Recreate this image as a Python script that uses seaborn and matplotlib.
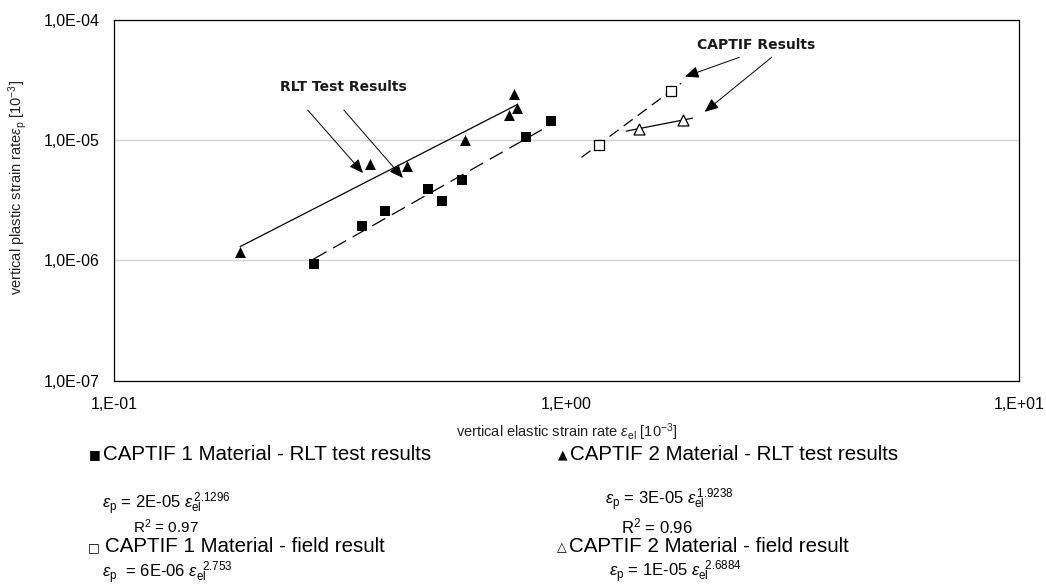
import numpy as np
import pandas as pd
import matplotlib
matplotlib.use("Agg")
import matplotlib.pyplot as plt
import seaborn as sns

# ---------------- data ----------------
rlt1_x = [0.276, 0.353, 0.397, 0.493, 0.530, 0.587, 0.815, 0.925]
rlt1_y = [9.4e-7, 1.94e-6, 2.55e-6, 3.93e-6, 3.08e-6, 4.67e-6, 1.06e-5, 1.43e-5]
rlt2_x = [0.190, 0.367, 0.444, 0.597, 0.745, 0.778, 0.767]
rlt2_y = [1.18e-6, 6.35e-6, 6.03e-6, 9.93e-6, 1.61e-5, 1.85e-5, 2.39e-5]
field1_x = [1.178, 1.70]
field1_y = [9.14e-6, 2.55e-5]
field2_x = [1.445, 1.805]
field2_y = [1.24e-5, 1.46e-5]

series_names = ["CAPTIF 1 Material - RLT test results",
                "CAPTIF 2 Material - RLT test results",
                "CAPTIF 1 Material - field result",
                "CAPTIF 2 Material - field result"]
equations = [r"$\varepsilon_{\rm p}$ = 2E-05 $\varepsilon_{\rm el}^{\,2.1296}$",
             r"$\varepsilon_{\rm p}$ = 3E-05 $\varepsilon_{\rm el}^{\,1.9238}$",
             r"$\varepsilon_{\rm p}$  = 6E-06 $\varepsilon_{\rm el}^{\;\;2.753}$",
             r"$\varepsilon_{\rm p}$ = 1E-05 $\varepsilon_{\rm el}^{\;\;2.6884}$"]
r2_labels = ["R$^2$ = 0.97", "R$^2$ = 0.96"]
yticks = [1e-7, 1e-6, 1e-5, 1e-4]
ytick_labels = ["1,0E-07", "1,0E-06", "1,0E-05", "1,0E-04"]
xticks = [0.1, 1, 10]
xtick_labels = ["1,E-01", "1,E+00", "1,E+01"]

# ---------------- style ----------------
sns.set_theme(style="white")
plt.rcParams["font.family"] = ["Liberation Sans", "DejaVu Sans"]
plt.rcParams["mathtext.fontset"] = "custom"
plt.rcParams["mathtext.rm"] = "Liberation Sans"
plt.rcParams["mathtext.it"] = "Liberation Sans:italic"
plt.rcParams["mathtext.bf"] = "Liberation Sans:bold"

W, H = 1046, 585
fig = plt.figure(figsize=(W / 100, H / 100), dpi=100)
ax = fig.add_axes([114 / W, 1 - 380.7 / H, 905 / W, 361.2 / H])
ax.set_xscale("log")
ax.set_yscale("log")

# ---------------- points ----------------
pts = [
    (rlt1_x, rlt1_y, "s", "black", 52),
    (rlt2_x, rlt2_y, "^", "black", 62),
    (field1_x, field1_y, "s", "white", 52),
    (field2_x, field2_y, "^", "white", 62),
]
for xs, ys, mk, fc, s in pts:
    sns.scatterplot(x=xs, y=ys, marker=mk, s=s, color=fc, edgecolor="black",
                    linewidth=0.9 if fc == "white" else 0, ax=ax, zorder=4)

# ---------------- power trendlines (fit in log space) ----------------
trend_styles = [(0, (12, 6)), "-", (0, (9, 5)), "-"]
ext_low = [0.0, 0.0, 0.038, 0.028]
ext_high = [0.01, 0.0, 0.023, 0.022]
for (xs, ys, *_), ls, el, eh in zip(pts, trend_styles, ext_low, ext_high):
    lx, ly = np.log10(xs), np.log10(ys)
    b, a = np.polyfit(lx, ly, 1)
    tx = np.linspace(lx.min() - el, lx.max() + eh, 50)
    df = pd.DataFrame({"x": 10 ** tx, "y": 10 ** (a + b * tx)})
    sns.lineplot(data=df, x="x", y="y", ax=ax, color="black", lw=0.9,
                 linestyle=ls, zorder=3)

# ---------------- axes ----------------
ax.set_xlim(0.1, 10)
ax.set_ylim(1e-7, 1e-4)
ax.set_xticks(xticks)
ax.set_xticklabels(xtick_labels)
ax.set_yticks(yticks)
ax.set_yticklabels(ytick_labels)
ax.minorticks_off()
ax.tick_params(axis="y", direction="inout", length=8, width=0.8, pad=6,
               labelsize=11.5, colors="black")
ax.tick_params(axis="x", direction="out", length=5, width=0.8, pad=7,
               labelsize=11.5, colors="black")
ax.yaxis.grid(True, color="#d2d2d2", lw=1)
ax.xaxis.grid(False)
for sp in ax.spines.values():
    sp.set_visible(True)
    sp.set_color("black")
    sp.set_linewidth(0.9)

ax.set_xlabel(r"vertical elastic strain rate $\varepsilon_{\rm el}$ [10$^{-3}$]",
              fontsize=10.5, color="#222222")
ax.xaxis.set_label_coords(0.5, (380.7 - 432) / 361.2)
ax.xaxis.label.set_va("center")
ax.set_ylabel(r"vertical plastic strain rate$\varepsilon_{\rm p}$ [10$^{-3}$]",
              fontsize=10.5, color="#222222")
ax.yaxis.set_label_coords((18 - 114) / 905, (380.7 - 187) / 361.2)
ax.yaxis.label.set_va("center")

# ---------------- annotations ----------------
arrow_kw = dict(arrowstyle="-|>,head_length=0.7,head_width=0.3", color="black",
                lw=0.7, shrinkA=0, shrinkB=0)
ax.text(0.322, 2.75e-5, "RLT Test Results", ha="center", va="center",
        fontsize=10, fontweight="bold", family="DejaVu Sans", color="#1a1a1a")
ax.annotate("", xy=(0.355, 5.31e-6), xytext=(0.268, 1.77e-5), arrowprops=arrow_kw)
ax.annotate("", xy=(0.435, 4.83e-6), xytext=(0.322, 1.77e-5), arrowprops=arrow_kw)
ax.text(2.62, 6.13e-5, "CAPTIF Results", ha="center", va="center",
        fontsize=10, fontweight="bold", family="DejaVu Sans", color="#1a1a1a")
ax.annotate("", xy=(1.827, 3.35e-5), xytext=(2.41, 4.85e-5), arrowprops=arrow_kw)
ax.annotate("", xy=(2.02, 1.71e-5), xytext=(2.84, 4.85e-5), arrowprops=arrow_kw)

# ---------------- Excel-style legend below the plot ----------------
def ft(px, py, s, **kw):
    fig.text(px / W, 1 - py / H, s, va="center", **kw)

sym = ["\u25a0", "\u25b2", "\u25a1", "\u25b3"]
leg_pos = [(89, 103, 454), (558, 570, 454), (88, 105, 547), (557, 569, 547)]
for (sx, tx, ty), sm, name in zip(leg_pos, sym, series_names):
    ft(sx, ty + 1, sm, fontsize=9, family="DejaVu Sans", color="black")
    ft(tx, ty, name, fontsize=14.8, color="black")

eq_pos = [(102, 504), (605, 500), (102, 573), (609, 572)]
for (px, py), eq in zip(eq_pos, equations):
    ft(px, py, eq, fontsize=12, color="black")
ft(133, 527, r2_labels[0], fontsize=11, color="black")
ft(621, 526, r2_labels[1], fontsize=12, color="black")

fig.savefig("out.png", dpi=100)
